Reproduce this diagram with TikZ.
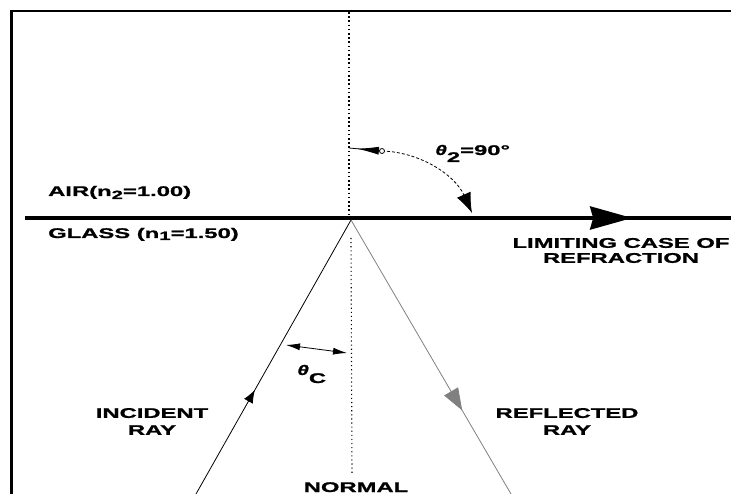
\documentclass[tikz,border=0pt]{standalone}
\usepackage{fontspec}
\usetikzlibrary{arrows.meta,decorations.markings}
\newfontfamily\lbl[FakeStretch=1.7,FakeBold=1.2]{Liberation Sans Bold}
\newfontfamily\lblit[FakeStretch=1.5,FakeBold=1.2]{Liberation Sans Bold Italic}
\tikzset{
  lbl/.style={font=\lbl\fontsize{14}{17}\selectfont, inner sep=0pt, align=center},
  ray/.style={line width=0.8pt},
  thin/.style={line width=0.8pt},
}
\begin{document}
\begin{tikzpicture}[x=1pt,y=-1pt]
\useasboundingbox (0,0) rectangle (731,494);
% coordinates
\coordinate (bBL) at (11.5,494);
\coordinate (bTL) at (11.5,11);
\coordinate (bTR) at (731,11);
\coordinate (apex) at (351,220);
\coordinate (incEnd) at (196,494);
\coordinate (refEnd) at (511,494);
\coordinate (nTop) at (349,12);
\coordinate (nMid) at (349,217);
\coordinate (nLowA) at (351,238);
\coordinate (nLowB) at (352,473);
\coordinate (ifL) at (25,218);
\coordinate (ifR) at (731,218);
\coordinate (tTwoA) at (349,148);
\coordinate (tTwoC) at (382,151);
\coordinate (tTwoE) at (472,213);
\coordinate (tcL) at (286,345);
\coordinate (tcR) at (347,353);
% frame
\draw[line width=2.5pt] (bBL) -- (bTL) -- (bTR);
% normal
\draw[line width=1.6pt, dash pattern=on 1.6pt off 2.6pt] (nTop) -- (nMid);
\draw[line width=1.1pt, dash pattern=on 1.1pt off 3pt] (nLowA) -- (nLowB);
% interface
\draw[line width=3.8pt, postaction={decorate}, decoration={markings, mark=at position 0.86 with {\arrow{Stealth[length=42pt,width=23pt,inset=3pt]}}}] (ifL) -- (ifR);
% incident ray
\draw[ray, postaction={decorate}, decoration={markings, mark=at position 0.38 with {\arrow{Latex[length=13pt,width=10pt]}}}] (incEnd) -- (apex);
% reflected ray
\draw[ray, color=black!50, postaction={decorate}, decoration={markings, mark=at position 0.695 with {\arrow{Triangle[length=22pt,width=16pt]}}}] (apex) -- (refEnd);
% theta 2 arc
\draw[thin, postaction={decorate}, decoration={markings, mark=at position 0.24 with {\arrowreversed{Latex[length=22pt,width=8pt]}}}] (tTwoA) -- (tTwoC);
\draw[thin, dash pattern=on 3pt off 2pt, -{Latex[length=20pt,width=15pt]}] (tTwoC) .. controls (420,152) and (455,175) .. (tTwoE);
\draw[thin, fill=white] (tTwoC) circle (2.5pt);
% theta c
\draw[thin, {Latex[length=14pt,width=7pt]}-{Latex[length=14pt,width=7pt]}] (tcL) -- (tcR);
% labels
\node[lbl, anchor=base west] (air) at (48,196) {AIR(n\raisebox{-3pt}{\fontsize{12}{12}\selectfont 2}=1.00)};
\node[lbl, anchor=base west] (glass) at (48,238) {GLASS (n\raisebox{-2pt}{\fontsize{12}{12}\selectfont 1}=1.50)};
\node[lbl, font=\lbl\fontsize{14}{15}\selectfont] (lim) at (621,250.5) {LIMITING CASE OF\\REFRACTION};
\node[lbl] (inc) at (152,421.5) {INCIDENT\\RAY};
\node[lbl] (refl) at (567,421.5) {REFLECTED\\RAY};
\node[lbl, anchor=base] (norm) at (356,492) {NORMAL};
\node[lbl, anchor=base west] (thtwo) at (435,155) {{\lblit θ}\raisebox{-7pt}{2}=90°};
\node[lbl, anchor=base west] (thc) at (297,375) {{\lblit θ}\raisebox{-8pt}{C}};
\end{tikzpicture}
\end{document}
